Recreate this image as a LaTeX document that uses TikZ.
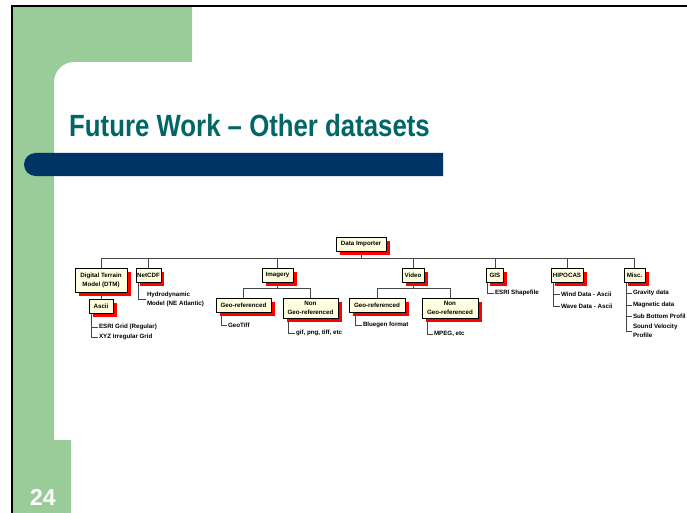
\documentclass[tikz,border=0pt]{standalone}
\usepackage{fontspec}
\usepackage{graphicx}
\setmainfont{Liberation Sans}
\usetikzlibrary{shadows,calc}
\definecolor{slidegreen}{HTML}{99CC99}
\definecolor{slidenavy}{HTML}{003366}
\definecolor{titleteal}{HTML}{006666}
\definecolor{boxfill}{HTML}{FFFFE0}
\pgfdeclarelayer{deco}
\pgfdeclarelayer{bg}
\pgfsetlayers{deco,bg,main}
\begin{document}
\begin{tikzpicture}[x=1pt,y=-1pt,
  box/.style={draw=black, line width=0.6pt, fill=boxfill, inner sep=1pt,
    font=\bfseries\fontsize{6.2}{9}\selectfont, align=center,
    general shadow={fill=red, shadow xshift=3.5pt, shadow yshift=-3.5pt},
    minimum height=14pt},
  leaf/.style={inner sep=0.8pt, anchor=west, font=\bfseries\fontsize{6.2}{9}\selectfont, align=left},
  conn/.style={draw=gray!55!black, line width=0.7pt}]
\useasboundingbox (0,0) rectangle (687,513);
\begin{pgfonlayer}{deco}
\fill[white] (0,0) rectangle (687,513);
\fill[slidegreen] (13,7) -- (192,7) -- (192,62) -- (74,62)
  arc[start angle=270, end angle=180, radius=20] -- (54,440) -- (71,440) -- (71,513) -- (13,513) -- cycle;
\fill[slidenavy] (443,153) -- (35.5,153) arc[start angle=270, end angle=90, radius=11.5]
  -- (443,176) -- cycle;
\draw[black, line width=1.5pt] (12,513) -- (12,6) -- (687,6);
\node[anchor=base west, inner sep=0, text=titleteal, font=\bfseries\fontsize{30.7}{36}\selectfont]
  (title) at (69,137) {\scalebox{0.84}[1]{Future Work -- Other datasets}};
\node[anchor=base west, inner sep=0, text=white, font=\bfseries\fontsize{23}{28}\selectfont]
  (pnum) at (30,505) {24};
\end{pgfonlayer}

% boxes
\node[box, minimum width=50pt] (di) at (361,244) {Data Importer};
\node[box, minimum width=52pt, minimum height=24pt] (dtm) at (101,280) {Digital Terrain\\Model (DTM)};
\node[box, minimum width=24pt] (ascii) at (101,306) {Ascii};
\node[box, minimum width=24pt] (netcdf) at (148.5,275) {NetCDF};
\node[box, minimum width=31pt] (img) at (277.5,275) {Imagery};
\node[box, minimum width=55pt] (geoI) at (243.5,305) {Geo-referenced};
\node[box, minimum width=55pt, minimum height=20pt] (nonI) at (310.5,308) {Non\\Geo-referenced};
\node[box, minimum width=22pt] (video) at (413,275) {Video};
\node[box, minimum width=56pt] (geoV) at (377,305) {Geo-referenced};
\node[box, minimum width=56pt, minimum height=20pt] (nonV) at (450,308) {Non\\Geo-referenced};
\node[box, minimum width=17pt] (gis) at (495,275) {GIS};
\node[box, minimum width=32pt] (hip) at (567,275) {HIPOCAS};
\node[box, minimum width=21pt] (misc) at (634.5,275) {Misc.};

% leaves
\node[leaf] (esri) at (98,327) {ESRI Grid (Regular)};
\node[leaf] (xyz) at (98,337) {XYZ Irregular Grid};
\node[leaf] (hydro) at (146,299) {Hydrodynamic\\Model (NE Atlantic)};
\node[leaf] (geotiff) at (227,325) {GeoTiff};
\node[leaf] (gif) at (295,333) {gif, png, tiff, etc};
\node[leaf] (blue) at (362,325) {Bluegen format};
\node[leaf] (mpeg) at (433,334) {MPEG, etc};
\node[leaf] (shp) at (494,293) {ESRI Shapefile};
\node[leaf] (wind) at (560,294) {Wind Data - Ascii};
\node[leaf] (wave) at (560,306) {Wave Data - Ascii};
\node[leaf] (grav) at (632,293) {Gravity data};
\node[leaf] (mag) at (632,305) {Magnetic data};
\node[leaf] (sub) at (632,316) {Sub Bottom Profil};
\node[leaf] (svp) at (632,331) {Sound Velocity\\Profile};

\begin{pgfonlayer}{bg}
% main bus
\draw[conn] (di.south) -- ++(0,8);
\draw[conn] (dtm.north) -- ++(0,-9) -| (misc.north);
\foreach \n in {netcdf,img,video,gis,hip} {\draw[conn] (\n.north) -- ++(0,-9);}
\draw[conn] (dtm.south) -- (ascii.north);
% sub-buses
\draw[conn] (img.south) -- ++(0,7);
\draw[conn] (geoI.north) -- ++(0,-9) -| (nonI.north);
\draw[conn] (video.south) -- ++(0,7);
\draw[conn] (geoV.north) -- ++(0,-9) -| (nonV.north);
% leaves
\draw[conn] ($(ascii.south west)+(3,0)$) |- (esri.west);
\draw[conn] ($(ascii.south west)+(3,0)$) |- (xyz.west);
\draw[conn] ($(netcdf.south west)+(2.5,0)$) |- (hydro.west);
\draw[conn] ($(geoI.south west)+(6,0)$) |- (geotiff.west);
\draw[conn] ($(nonI.south west)+(6,0)$) |- (gif.west);
\draw[conn] ($(geoV.south west)+(7,0)$) |- (blue.west);
\draw[conn] ($(nonV.south west)+(6,0)$) |- (mpeg.west);
\draw[conn] ($(gis.south west)+(1.5,0)$) |- (shp.west);
\draw[conn] ($(hip.south west)+(3,0)$) |- (wind.west);
\draw[conn] ($(hip.south west)+(3,0)$) |- (wave.west);
\draw[conn] ($(misc.south west)+(3,0)$) |- (grav.west);
\draw[conn] ($(misc.south west)+(3,0)$) |- (mag.west);
\draw[conn] ($(misc.south west)+(3,0)$) |- (sub.west);
\draw[conn] ($(misc.south west)+(3,0)$) |- (svp.west);
\end{pgfonlayer}
\end{tikzpicture}
\end{document}
